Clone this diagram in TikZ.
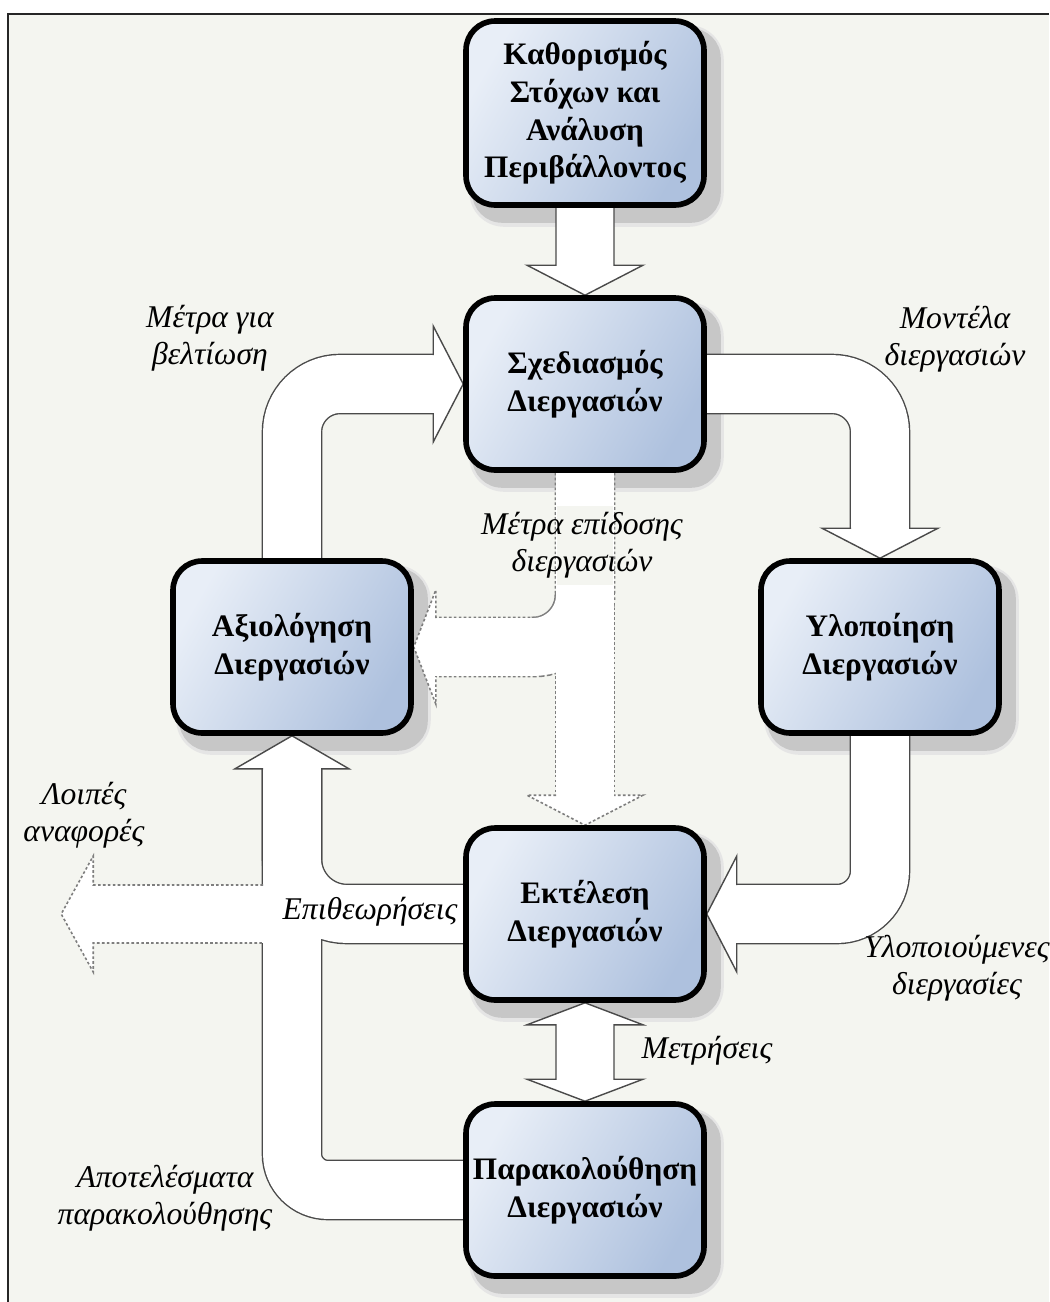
\documentclass[tikz,border=0pt]{standalone}
\usepackage{fontspec}
\setmainfont{Liberation Serif}
\usetikzlibrary{calc}

\definecolor{canvas}{HTML}{F4F5F0}
\definecolor{boxlight}{HTML}{E8EEF7}
\definecolor{boxdark}{HTML}{AEC1DE}
\definecolor{flowline}{HTML}{4A4A4A}
\definecolor{dashline}{HTML}{7E7E7E}

\pgfdeclarelayer{paper}
\pgfdeclarelayer{boxshadows}
\pgfdeclarelayer{flows}
\pgfsetlayers{paper,boxshadows,flows,main}

\begin{document}
\begin{tikzpicture}[x=0.02cm, y=-0.02cm,
  procbox/.style={draw=black, line width=3.2pt, rounded corners=0.58cm,
    left color=boxlight, right color=boxdark, shading angle=60,
    minimum width=4.76cm, minimum height=3.44cm, align=center, inner sep=2pt,
    font=\bfseries\fontsize{17.8}{21.4}\selectfont},
  note/.style={align=center, inner sep=1pt, font=\itshape\fontsize{18}{21}\selectfont},
  arrowhead/.style={fill=white, draw=flowline, line width=0.8pt, line join=miter},
  band/.style={draw=flowline, line width=0.8pt, double=white, double distance=32.9pt, line cap=butt},
  bandedge/.style={draw=flowline, line width=34.5pt, line cap=butt},
  bandbody/.style={draw=white, line width=32.9pt, line cap=butt},
  dashedge/.style={draw=dashline, line width=34.7pt, line cap=butt, dash pattern=on 1.5pt off 1.3pt},
  dashbody/.style={draw=white, line width=32.9pt, line cap=butt},
  dashthin/.style={draw=dashline, line width=0.9pt, dash pattern=on 1.5pt off 1.3pt},
  boxshade/.style={fill=black!22, rounded corners=0.6cm},
  boxhalo/.style={fill=black!10, rounded corners=0.7cm}
]
\useasboundingbox (0,0) rectangle (1049,1302);

% paper and frame
\begin{pgfonlayer}{paper}
  \fill[white] (0,0) rectangle (1049,1302);
  \fill[canvas] (8,14) rectangle (1049,1302);
  \draw[black!85, line width=1.1pt] (8,1302) -- (8,14) -- (1049,14);
\end{pgfonlayer}

% process boxes
\node[procbox, minimum height=3.68cm] (b1) at (585,113) {Καθορισμός\\Στόχων και\\Ανάλυση\\Περιβάλλοντος};
\node[procbox] (b2) at (585,384) {Σχεδιασμός\\Διεργασιών};
\node[procbox] (b3) at (292,647) {Αξιολόγηση\\Διεργασιών};
\node[procbox] (b4) at (880,647) {Υλοποίηση\\Διεργασιών};
\node[procbox] (b5) at (585,914) {Εκτέλεση\\Διεργασιών};
\node[procbox] (b6) at (585,1190) {Παρακολούθηση\\Διεργασιών};

% soft drop shadows
\begin{pgfonlayer}{boxshadows}
  \foreach \b in {b1,b2,b3,b4,b5,b6}{
    \fill[boxhalo] ($(\b.south west)+(6,19)$) rectangle ($(\b.north east)+(17,7)$);
    \fill[boxshade] ($(\b.south west)+(9,15)$) rectangle ($(\b.north east)+(14,10)$);
  }
\end{pgfonlayer}

\begin{pgfonlayer}{flows}
  % goals -> design
  \filldraw[arrowhead] ($(b1.south)+(-29,0)$) -- ($(b2.north)+(-29,-30)$) -- ($(b2.north)+(-58,-30)$)
    -- (b2.north) -- ($(b2.north)+(58,-30)$) -- ($(b2.north)+(29,-30)$) -- ($(b1.south)+(29,0)$);

  % design -> implementation
  \draw[band, rounded corners=0.96cm] (b2.east) -| ($(b4.north)+(0,-30)$);
  \filldraw[arrowhead] ($(b4.north)+(-29,-30)$) -- ($(b4.north)+(-58,-30)$) -- (b4.north)
    -- ($(b4.north)+(58,-30)$) -- ($(b4.north)+(29,-30)$);

  % evaluation -> design
  \draw[band, rounded corners=0.96cm] (b3.north) |- ($(b2.west)+(-30,0)$);
  \filldraw[arrowhead] ($(b2.west)+(-30,-29)$) -- ($(b2.west)+(-30,-58)$) -- (b2.west)
    -- ($(b2.west)+(-30,58)$) -- ($(b2.west)+(-30,29)$);

  % implementation -> execution
  \draw[band, rounded corners=0.86cm] (b4.south) |- ($(b5.east)+(30,0)$);
  \filldraw[arrowhead] ($(b5.east)+(30,-29)$) -- ($(b5.east)+(30,-58)$) -- (b5.east)
    -- ($(b5.east)+(30,58)$) -- ($(b5.east)+(30,29)$);

  % execution <-> monitoring
  \filldraw[arrowhead] (b5.south) -- ($(b5.south)+(58,22)$) -- ($(b5.south)+(29,22)$)
    -- ($(b6.north)+(29,-22)$) -- ($(b6.north)+(58,-22)$) -- (b6.north)
    -- ($(b6.north)+(-58,-22)$) -- ($(b6.north)+(-29,-22)$)
    -- ($(b5.south)+(-29,22)$) -- ($(b5.south)+(-58,22)$) -- cycle;

  % performance measures (dashed), design -> evaluation and execution
  \draw[dashedge, rounded corners=1.04cm] (b2.south) |- ($(b3.east)+(22,0)$);
  \draw[dashedge] ($(b2.south)+(0,120)$) -- ($(b5.north)+(0,-30)$);
  \draw[dashbody, rounded corners=1.04cm] (b2.south) |- ($(b3.east)+(22,0)$);
  \draw[dashbody] ($(b2.south)+(0,120)$) -- ($(b5.north)+(0,-30)$);
  \fill[canvas] ($(b2.south)+(-28,33)$) rectangle ($(b2.south)+(28,112)$);
  \fill[white] ($(b5.north)+(-58,-30)$) -- (b5.north) -- ($(b5.north)+(58,-30)$) -- cycle;
  \draw[dashthin] ($(b5.north)+(-29,-30)$) -- ($(b5.north)+(-58,-30)$) -- (b5.north)
    -- ($(b5.north)+(58,-30)$) -- ($(b5.north)+(29,-30)$);
  \fill[white] ($(b3.east)+(22,-57)$) -- (b3.east) -- ($(b3.east)+(22,57)$) -- cycle;
  \draw[dashthin] ($(b3.east)+(22,-29)$) -- ($(b3.east)+(22,-57)$) -- (b3.east)
    -- ($(b3.east)+(22,57)$) -- ($(b3.east)+(22,29)$);

  % inspections and monitoring results -> evaluation
  \draw[bandedge, rounded corners=1.1cm] (b5.west) -| ($(b3.south)+(0,33)$);
  \draw[bandedge, rounded corners=0.72cm] (b6.west) -| ($(b3.south)+(0,33)$);
  \draw[bandbody, rounded corners=1.1cm] (b5.west) -| ($(b3.south)+(0,33)$);
  \draw[bandbody, rounded corners=0.72cm] (b6.west) -| ($(b3.south)+(0,33)$);
  \filldraw[arrowhead] ($(b3.south)+(-29,33)$) -- ($(b3.south)+(-57,33)$) -- (b3.south)
    -- ($(b3.south)+(57,33)$) -- ($(b3.south)+(29,33)$);

  % other reports (dashed outlet to the left)
  \coordinate (jn) at (b3.south |- b5.west);
  \coordinate (rep) at ($(b5.west)+(-402,0)$);
  \fill[white] ($(rep)+(32,-29)$) rectangle ($(jn)+(0,29)$);
  \fill[white] ($(rep)+(32,-58)$) -- (rep) -- ($(rep)+(32,58)$) -- cycle;
  \draw[dashthin] ($(jn)+(-29,-29)$) -- ($(rep)+(32,-29)$) -- ($(rep)+(32,-58)$) -- (rep)
    -- ($(rep)+(32,58)$) -- ($(rep)+(32,29)$) -- ($(jn)+(-29,29)$);
\end{pgfonlayer}

% flow labels
\node[note] (lbl1) at (210,338) {Μέτρα για\\βελτίωση};
\node[note] (lbl2) at (955,339) {Μοντέλα\\διεργασιών};
\node[note] (lbl3) at (582,545) {Μέτρα επίδοσης\\διεργασιών};
\node[note] (lbl4) at (84,815) {Λοιπές\\αναφορές};
\node[note] (lbl5) at (370,912) {Επιθεωρήσεις};
\node[note] (lbl6) at (957,968) {Υλοποιούμενες\\διεργασίες};
\node[note] (lbl7) at (707,1051) {Μετρήσεις};
\node[note] (lbl8) at (165,1198) {Αποτελέσματα\\παρακολούθησης};
\end{tikzpicture}
\end{document}
